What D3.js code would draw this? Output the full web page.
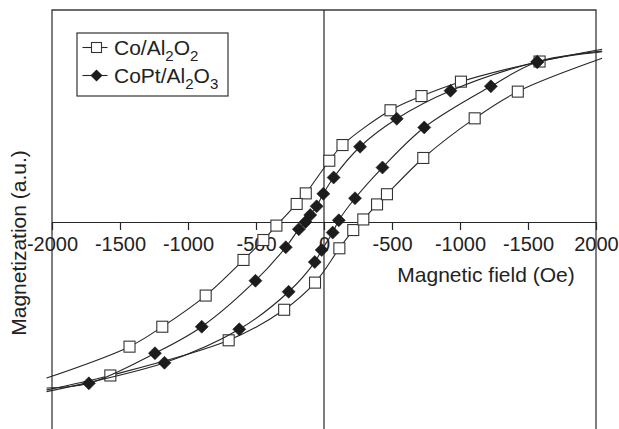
<!DOCTYPE html>
<html>
<head>
<meta charset="utf-8">
<script src="https://cdn.jsdelivr.net/npm/d3@7/dist/d3.min.js"></script>
<style>
  html, body { margin: 0; padding: 0; background: #fff; }
  svg { display: block; }
  text { font-family: "Liberation Sans", Arial, Helvetica, sans-serif; fill: #222; }
</style>
</head>
<body>
<svg id="chart" width="619" height="429"></svg>
<script>
// Hysteresis loops: field H (Oe) vs normalised magnetization.
// Each sample has a descending branch (from +H) and an ascending branch (from -H).
const coDown = [
  [2045, 0.815], [1585, 0.757], [1007, 0.662], [717, 0.594], [489, 0.527],
  [136, 0.363], [39, 0.289], [-134, 0.135], [-201, 0.085], [-350, -0.017],
  [-446, -0.085], [-592, -0.179], [-870, -0.347], [-1189, -0.494],
  [-1430, -0.588], [-2040, -0.736]
];
const coUp = [
  [-2040, -0.792], [-1571, -0.724], [-701, -0.558], [-293, -0.414],
  [-66, -0.286], [113, -0.124], [215, -0.038], [289, 0.012], [390, 0.083],
  [463, 0.131], [730, 0.302], [1108, 0.489], [1425, 0.615], [2045, 0.772]
];
const coptDown = [
  [2045, 0.803], [1568, 0.755], [930, 0.619], [535, 0.487], [265, 0.355],
  [71, 0.210], [-5, 0.133], [-54, 0.074], [-101, 0.033], [-136, 0.0],
  [-185, -0.034], [-281, -0.119], [-504, -0.277], [-899, -0.494],
  [-1243, -0.619], [-1729, -0.761], [-2040, -0.783]
];
const coptUp = [
  [-2040, -0.800], [-1173, -0.664], [-623, -0.506], [-260, -0.329],
  [-68, -0.189], [-17, -0.132], [64, -0.050], [109, 0.008], [228, 0.112],
  [430, 0.257], [737, 0.446], [1227, 0.640], [1568, 0.755], [2045, 0.806]
];

const xTicks = [-2000, -1500, -1000, -500, 0, 500, 1000, 1500, 2000];
const xTickLabels = ["-2000", "-1500", "-1000", "-500", "0", "-500", "-1000", "-1500", "2000"];

const xTitle = "Magnetic field (Oe)";
const yTitle = "Magnetization (a.u.)";

const svg = d3.select("#chart");
const plotL = 52, plotR = 596, plotT = 10, plotB = 434;

const x = d3.scaleLinear().domain([-2000, 2000]).range([plotL, plotR]);
const y = d3.scaleLinear().domain([-1, 1]).range([plotB, plotT]);

const ink = "#262626";

// plot frame (bottom edge lies below the visible page)
svg.append("path")
  .attr("d", `M${plotL},${plotB + 5}V${plotT}H${plotR}V${plotB + 5}`)
  .attr("fill", "none").attr("stroke", "#3a3a3a").attr("stroke-width", 1.3);

// vertical axis through H = 0
svg.append("line")
  .attr("x1", x(0)).attr("x2", x(0)).attr("y1", plotT).attr("y2", plotB + 5)
  .attr("stroke", ink).attr("stroke-width", 1.2);

// horizontal axis through M = 0
const xAxis = d3.axisBottom(x)
  .tickValues(xTicks)
  .tickFormat((d, i) => xTickLabels[i])
  .tickSizeOuter(0)
  .tickSizeInner(8)
  .tickPadding(7);

const gx = svg.append("g").attr("transform", `translate(0,${y(0)})`).call(xAxis);
gx.select(".domain").attr("stroke", ink).attr("stroke-width", 1.2);
gx.selectAll(".tick line").attr("stroke", ink).attr("stroke-width", 1.2);
gx.selectAll(".tick text")
  .attr("font-size", 20)
  .attr("fill", "#222")
  .style("font-family", '"Liberation Sans", Arial, sans-serif');

// axis titles
svg.append("text")
  .attr("x", 486).attr("y", 282)
  .attr("text-anchor", "middle").attr("font-size", 21)
  .text(xTitle);

svg.append("text")
  .attr("transform", "translate(26,243) rotate(-90)")
  .attr("text-anchor", "middle").attr("font-size", 21)
  .text(yTitle);

// smoothed branches
const line = d3.line()
  .x(d => x(d[0])).y(d => y(d[1]))
  .curve(d3.curveCatmullRom.alpha(0.5));

const squareMark = (g, data, s) => g.selectAll(null)
  .data(data.filter(d => Math.abs(d[0]) <= 2000))
  .enter().append("rect")
  .attr("x", d => x(d[0]) - s / 2).attr("y", d => y(d[1]) - s / 2)
  .attr("width", s).attr("height", s)
  .attr("fill", "#fff").attr("stroke", "#333").attr("stroke-width", 1.1);

const diamondPath = r => `M0,${-r}L${r},0L0,${r}L${-r},0Z`;
const diamondMark = (g, data, r) => g.selectAll(null)
  .data(data.filter(d => Math.abs(d[0]) <= 2000))
  .enter().append("path")
  .attr("transform", d => `translate(${x(d[0])},${y(d[1])})`)
  .attr("d", diamondPath(r))
  .attr("fill", "#1c1c1c").attr("stroke", "#1c1c1c").attr("stroke-width", 0.6);

const series = [
  { branches: [coDown, coUp], marker: "square" },
  { branches: [coptDown, coptUp], marker: "diamond" }
];

series.forEach(s => {
  const g = svg.append("g");
  s.branches.forEach(b => {
    g.append("path").attr("d", line(b))
      .attr("fill", "none").attr("stroke", ink).attr("stroke-width", 1.1);
  });
  s.branches.forEach(b => {
    if (s.marker === "square") squareMark(g, b, 11);
    else diamondMark(g, b, 6.5);
  });
});

// legend
const lg = svg.append("g");
lg.append("rect")
  .attr("x", 77).attr("y", 33).attr("width", 151).attr("height", 63)
  .attr("fill", "#fff").attr("stroke", "#333").attr("stroke-width", 1.2);

const legendRows = [
  { y: 47.5, marker: "square", main: ["Co/Al", "O"], subs: ["2", "2"] },
  { y: 75.5, marker: "diamond", main: ["CoPt/Al", "O"], subs: ["2", "3"] }
];

legendRows.forEach(r => {
  lg.append("line").attr("x1", 82.5).attr("x2", 107.5).attr("y1", r.y).attr("y2", r.y)
    .attr("stroke", ink).attr("stroke-width", 1.1);
  if (r.marker === "square") {
    lg.append("rect").attr("x", 96.5 - 5).attr("y", r.y - 5).attr("width", 10).attr("height", 10)
      .attr("fill", "#fff").attr("stroke", "#333").attr("stroke-width", 1.1);
  } else {
    lg.append("path").attr("transform", `translate(96.5,${r.y})`).attr("d", diamondPath(6))
      .attr("fill", "#1c1c1c");
  }
  const t = lg.append("text").attr("x", 114).attr("y", r.y + 7.5).attr("font-size", 21);
  r.main.forEach((m, i) => {
    t.append("tspan").attr("dy", i === 0 ? 0 : -6).text(m);
    t.append("tspan").attr("font-size", 15).attr("dy", 6).text(r.subs[i]);
  });
});
</script>
</body>
</html>
